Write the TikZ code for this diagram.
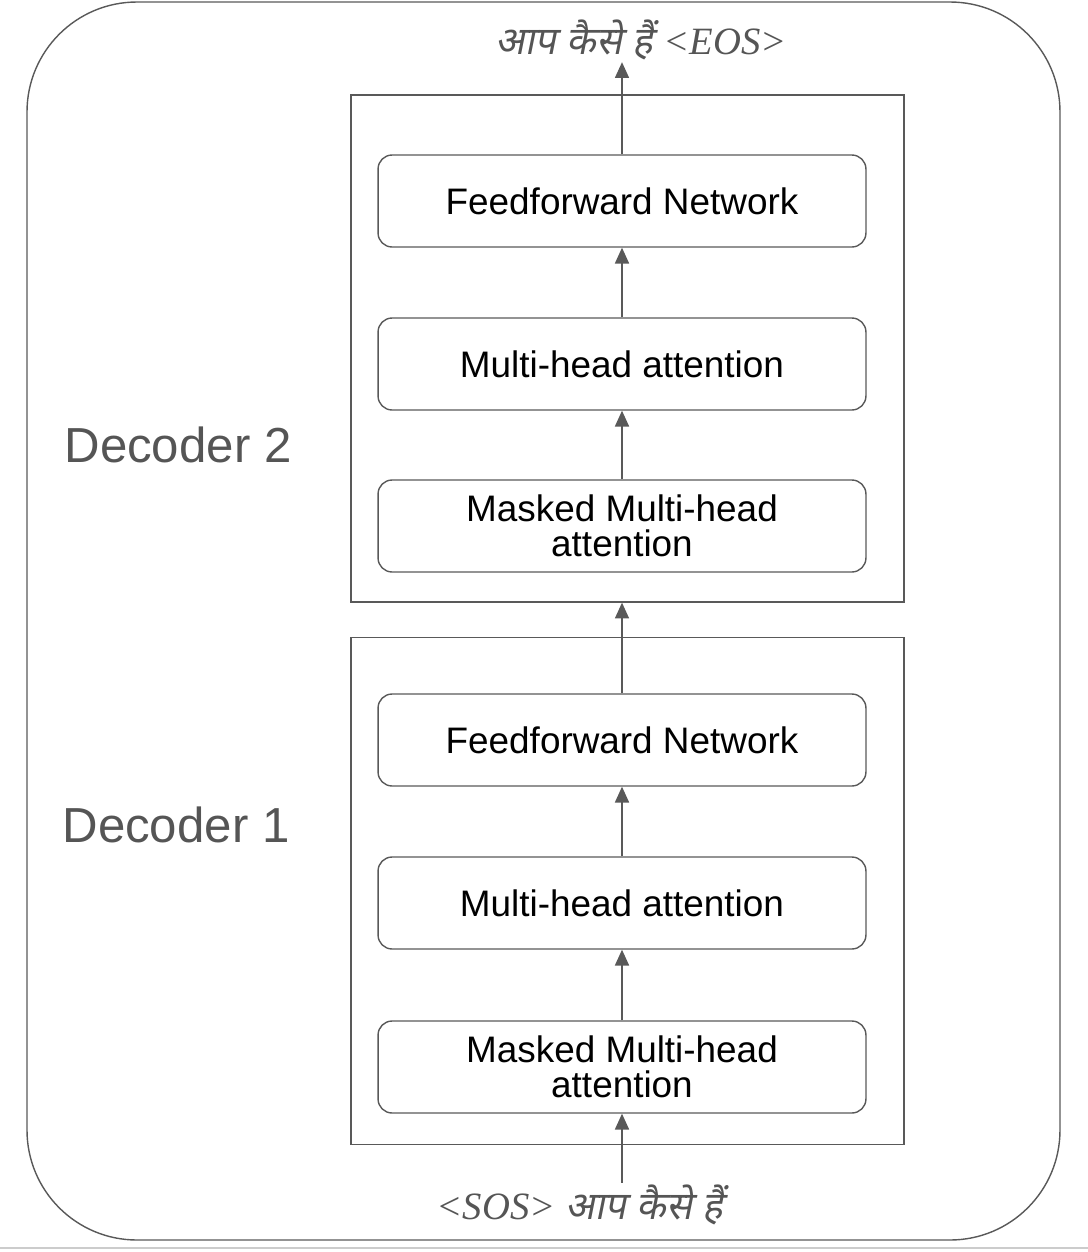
\documentclass[tikz,border=0pt]{standalone}
\usepackage{fontspec}
\setmainfont{Liberation Sans}
\newfontfamily\devfont[Script=Devanagari,FakeSlant=0.2]{Noto Sans}
\newfontfamily\tokfont{Liberation Serif}
\usetikzlibrary{arrows.meta}
\definecolor{linegrey}{HTML}{595959}
\definecolor{labelgrey}{HTML}{555555}
\tikzset{
  layer/.style={draw=linegrey, thick, rounded corners=8pt, minimum width=9.76cm, minimum height=1.84cm, align=center, font=\fontsize{21}{22}\selectfont, inner sep=0pt},
  decbox/.style={draw=linegrey, thick, minimum width=11.06cm, minimum height=10.14cm, inner sep=0pt},
  flow/.style={draw=linegrey, thick, -{Triangle[length=9pt,width=8pt]}},
  declabel/.style={text=labelgrey, font=\fontsize{28}{30}\selectfont},
  token/.style={text=labelgrey, font=\fontsize{22}{24}\selectfont, inner sep=1pt}
}
\newcommand{\hin}{{\devfont आप कैसे हैं}}
\begin{document}
\begin{tikzpicture}[x=0.02cm,y=-0.02cm]
\useasboundingbox (0,0) rectangle (1088,1252);
\draw[linegrey, thick, rounded corners=2.2cm] (27,2) rectangle (1060,1240);
\draw[gray!40, thick] (0,1248) -- (1088,1248);
% decoder boxes
\node[decbox] (d2) at (627.5,348.5) {};
\node[decbox] (d1) at (627.5,891) {};
% decoder 2 layers
\node[layer] (ff2) at (622,201) {Feedforward Network};
\node[layer] (mha2) at (622,364) {Multi-head attention};
\node[layer] (mm2) at (622,526) {Masked Multi-head\\[-2pt]attention};
% decoder 1 layers
\node[layer] (ff1) at (622,740) {Feedforward Network};
\node[layer] (mha1) at (622,903) {Multi-head attention};
\node[layer] (mm1) at (622,1067) {Masked Multi-head\\[-2pt]attention};
% labels
\node[declabel] (lab2) at (178,445) {Decoder 2};
\node[declabel] (lab1) at (176,825) {Decoder 1};
\node[token] (out) at (641,40) {\hin\ \tokfont\itshape <EOS>};
\node[token] (in) at (580,1205) {\tokfont\itshape <SOS>\ \hin};
% arrows
\path[flow] (in.north -| mm1.south) -- (mm1.south);
\path[flow] (mm1) -- (mha1);
\path[flow] (mha1) -- (ff1);
\path[flow] (ff1.north) -- (ff1.north |- d2.south);
\path[flow] (mm2) -- (mha2);
\path[flow] (mha2) -- (ff2);
\path[flow] (ff2.north) -- (ff2.north |- out.south);
\end{tikzpicture}
\end{document}
